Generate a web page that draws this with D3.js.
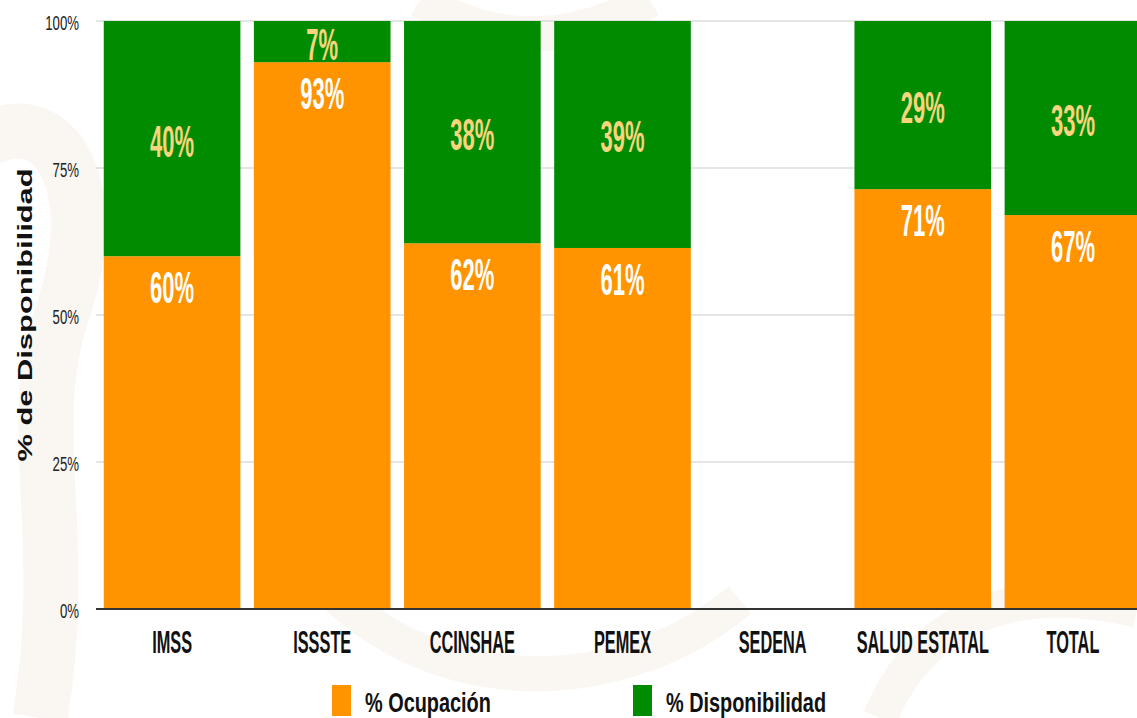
<!DOCTYPE html>
<html lang="es">
<head>
  <meta charset="UTF-8" />
  <title>% Ocupación / % Disponibilidad</title>
  <script src="https://d3js.org/d3.v7.min.js"></script>
  <style>
    body { margin: 0; background: #fff; }
    svg { display: block; font-family: "Liberation Sans", Arial, sans-serif; }
  </style>
</head>
<body>
  <svg width="1137" height="718"></svg>
  <script>
    const categories = ["IMSS", "ISSSTE", "CCINSHAE", "PEMEX", "SEDENA", "SALUD ESTATAL", "TOTAL"];
    const ocupacion = [60, 93, 62.2, 61.4, null, 71.4, 67];
    const disponibilidad = [40, 7, 37.8, 38.6, null, 28.6, 33];
    const yTicks = [0, 25, 50, 75, 100];
    const seriesNames = ["% Ocupación", "% Disponibilidad"];
    const colors = ["#ff9300", "#008b00"];

    const svg = d3.select("svg");
    const W = 1137;

    // faint watermark in the background
    const deco = svg.append("g").attr("fill", "none").attr("stroke", "#faf6f1");
    deco.append("path").attr("d", "M-30,150 C50,90 110,180 60,320 C25,430 70,540 40,718").attr("stroke-width", 55);
    deco.append("path").attr("d", "M420,0 C500,50 580,40 650,0").attr("stroke-width", 35);
    deco.append("path").attr("d", "M330,590 C440,700 620,700 740,600").attr("stroke-width", 35);
    deco.append("path").attr("d", "M880,718 C920,620 1010,580 1137,610").attr("stroke-width", 35);

    // squeezed text helper (the source uses a narrow face)
    function label(g, x, y, txt, size, sx, anchor, fill, weight) {
      g.append("text")
        .attr("transform", `translate(${x},${y}) scale(${sx},1)`)
        .attr("text-anchor", anchor)
        .attr("font-size", size)
        .attr("font-weight", weight)
        .attr("fill", fill)
        .text(txt);
    }

    const x = d3.scaleBand()
      .domain(categories)
      .range([97, 1148])
      .paddingInner(0.09)
      .paddingOuter(0.045);

    const y = d3.scaleLinear().domain([0, 100]).range([609, 21]);

    // grid
    svg.append("g")
      .selectAll("line")
      .data(yTicks.filter(t => t > 0))
      .join("line")
      .attr("x1", 96).attr("x2", W)
      .attr("y1", d => y(d)).attr("y2", d => y(d))
      .attr("stroke", "#cccccc").attr("stroke-width", 1.2);

    // y tick labels
    const yl = svg.append("g");
    yTicks.forEach(t => label(yl, 79, y(t) + 9, t + "%", 20, 0.66, "end", "#222", "normal"));

    const rows = categories.map((c, i) => ({ cat: c, occ: ocupacion[i], disp: disponibilidad[i] }));

    const bars = svg.append("g");
    rows.filter(d => d.occ !== null).forEach(d => {
      bars.append("rect")
        .attr("x", x(d.cat)).attr("width", x.bandwidth())
        .attr("y", y(d.occ)).attr("height", y(0) - y(d.occ))
        .attr("fill", colors[0]);
      bars.append("rect")
        .attr("x", x(d.cat)).attr("width", x.bandwidth())
        .attr("y", y(d.occ + d.disp)).attr("height", y(d.occ) - y(d.occ + d.disp))
        .attr("fill", colors[1]);
    });

    // baseline
    svg.append("line")
      .attr("x1", 96).attr("x2", W)
      .attr("y1", y(0)).attr("y2", y(0))
      .attr("stroke", "#333").attr("stroke-width", 2);

    // value labels
    const vl = svg.append("g");
    rows.filter(d => d.occ !== null).forEach(d => {
      const cx = x(d.cat) + x.bandwidth() / 2;
      label(vl, cx, y(d.occ) + 47, Math.round(d.occ) + "%", 44, 0.5, "middle", "#ffffff", "bold");
      label(vl, cx, (y(d.occ) + y(d.occ + d.disp)) / 2 + 18, Math.round(d.disp) + "%", 44, 0.5, "middle", "#f8d47c", "bold");
    });

    // category labels
    const cl = svg.append("g");
    categories.forEach(c => label(cl, x(c) + x.bandwidth() / 2, 653, c, 32, 0.51, "middle", "#111", "bold"));

    // y title
    svg.append("text")
      .attr("transform", "translate(32,315) rotate(-90) scale(1.47,1)")
      .attr("text-anchor", "middle")
      .attr("font-weight", "bold").attr("font-size", 21).attr("fill", "#111")
      .text("% de Disponibilidad");

    // legend
    const legendX = [332, 633];
    const legend = svg.append("g");
    seriesNames.forEach((s, i) => {
      legend.append("rect")
        .attr("x", legendX[i]).attr("y", 685).attr("width", 19).attr("height", 31)
        .attr("fill", colors[i]);
      label(legend, legendX[i] + 33, 712, s, 28, 0.71, "start", "#111", "bold");
    });
  </script>
</body>
</html>
